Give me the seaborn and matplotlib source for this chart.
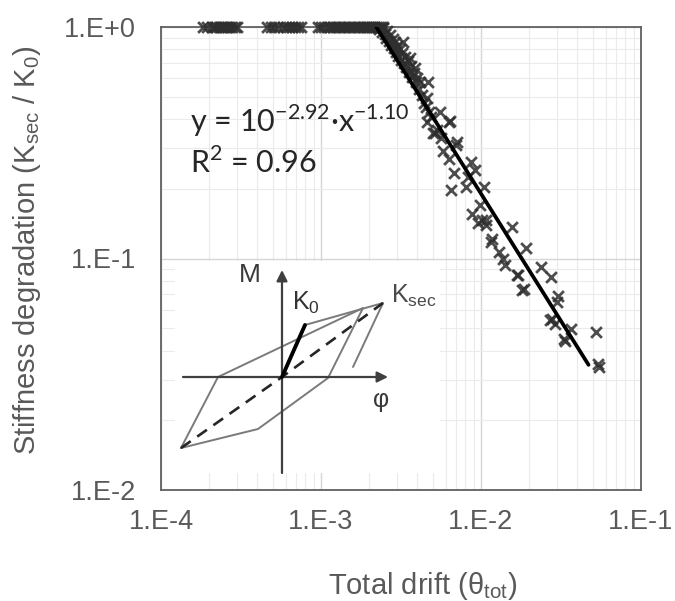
import numpy as np
import pandas as pd
import matplotlib
matplotlib.use("Agg")
import matplotlib.pyplot as plt
import seaborn as sns
from matplotlib.patches import Rectangle
from matplotlib.ticker import LogLocator, NullFormatter

# ---------------------------------------------------------------- data
# drifts at which the secant stiffness is still the initial one (K_sec / K0 = 1)
plateau_drift = [
    1.82e-4, 1.95e-4, 2.08e-4, 2.15e-4, 2.22e-4, 2.30e-4, 2.38e-4, 2.45e-4,
    2.52e-4, 2.60e-4, 2.68e-4, 2.78e-4, 2.90e-4, 3.00e-4,
    4.60e-4, 4.85e-4, 5.10e-4, 5.40e-4, 5.75e-4, 6.00e-4, 6.30e-4, 6.60e-4,
    6.90e-4, 7.20e-4, 7.50e-4,
    9.6e-4, 1.00e-3, 1.05e-3, 1.10e-3, 1.14e-3, 1.18e-3, 1.22e-3, 1.27e-3,
    1.32e-3, 1.37e-3, 1.42e-3, 1.47e-3, 1.52e-3, 1.58e-3, 1.64e-3, 1.70e-3,
    1.76e-3, 1.82e-3, 1.88e-3, 1.94e-3, 2.00e-3, 2.06e-3, 2.12e-3, 2.18e-3,
    2.24e-3, 2.30e-3, 2.38e-3, 2.45e-3,
]
plateau_ratio = 1.0

# degrading branch: total drift and stiffness ratio K_sec / K0
degr_drift = [
    2.30e-3, 2.40e-3, 2.45e-3, 2.50e-3, 2.55e-3, 2.60e-3, 2.65e-3, 2.70e-3,
    2.75e-3, 2.80e-3, 2.85e-3, 2.90e-3, 2.95e-3, 3.00e-3, 3.05e-3, 3.10e-3,
    3.15e-3, 3.20e-3, 3.25e-3, 3.30e-3, 3.35e-3, 3.40e-3, 3.50e-3, 3.55e-3,
    3.60e-3, 3.65e-3, 3.70e-3, 3.80e-3, 3.87e-3, 3.90e-3, 4.00e-3, 4.10e-3,
    4.16e-3, 4.30e-3, 4.40e-3, 4.50e-3, 4.60e-3, 4.67e-3, 4.60e-3, 4.70e-3,
    4.90e-3, 5.00e-3, 5.16e-3, 5.30e-3, 5.54e-3, 5.60e-3, 5.80e-3, 6.30e-3,
    6.40e-3, 7.08e-3, 7.00e-3, 6.30e-3, 6.80e-3, 6.50e-3, 8.10e-3, 8.30e-3,
    8.70e-3, 9.20e-3, 8.80e-3, 9.80e-3, 1.04e-2, 1.02e-2, 1.07e-2, 9.60e-3,
    1.08e-2, 1.56e-2, 1.17e-2, 1.15e-2, 1.29e-2, 1.37e-2, 1.90e-2, 1.42e-2,
    1.67e-2, 1.70e-2, 2.36e-2, 2.72e-2, 1.80e-2, 1.85e-2, 3.05e-2, 3.00e-2,
    2.70e-2, 2.76e-2, 2.90e-2, 3.67e-2, 3.30e-2, 3.37e-2, 5.26e-2, 5.40e-2,
    5.50e-2,
]
degr_ratio = [
    0.98, 0.95, 0.99, 0.93, 0.90, 0.96, 0.87, 0.92,
    0.84, 0.89, 0.81, 0.86, 0.78, 0.83, 0.75, 0.80,
    0.72, 0.77, 0.86, 0.70, 0.74, 0.67, 0.71, 0.64,
    0.735, 0.68, 0.61, 0.63, 0.665, 0.58, 0.60, 0.54,
    0.579, 0.51, 0.47, 0.45, 0.39, 0.579, 0.494, 0.43,
    0.41, 0.35, 0.348, 0.36, 0.429, 0.33, 0.29, 0.39,
    0.392, 0.319, 0.31, 0.27, 0.235, 0.198, 0.204, 0.225,
    0.26, 0.24, 0.155, 0.17, 0.204, 0.147, 0.147, 0.142,
    0.14, 0.137, 0.121, 0.118, 0.107, 0.10, 0.111, 0.094,
    0.085, 0.085, 0.0915, 0.0836, 0.073, 0.0735, 0.0686, 0.065,
    0.054, 0.0546, 0.052, 0.0494, 0.045, 0.0439, 0.048, 0.0349,
    0.034,
]

# power-law fit y = 10^a * x^b
fit_log_coef = -2.92
fit_exponent = -1.10
fit_r2 = 0.96
fit_x_max = 0.047

x_ticks = [1e-4, 1e-3, 1e-2, 1e-1]
x_tick_labels = ["1.E-4", "1.E-3", "1.E-2", "1.E-1"]
y_ticks = [1e-2, 1e-1, 1e0]
y_tick_labels = ["1.E-2", "1.E-1", "1.E+0"]

# schematic moment-curvature loop (arbitrary units, origin at the axes cross)
loop_u = [-10.1, -2.4, 4.6, 8.1, -6.4, -10.1]
loop_v = [-7.1, -5.2, -0.1, 6.9, 0.0, -7.1]
reload_u = [2.3, 10.1, 7.1]
reload_v = [5.2, 7.4, 1.0]
k0_u = [0.0, 2.3]
k0_v = [0.0, 5.2]
ksec_u = [-10.1, 0.0, 10.1]
ksec_v = [-7.1, 0.0, 7.4]

# ---------------------------------------------------------------- style
sns.set_style("white")
plt.rcParams["font.family"] = ["Liberation Sans", "DejaVu Sans"]
label_grey = "#595959"

df = pd.DataFrame({
    "drift": list(plateau_drift) + list(degr_drift),
    "ratio": [plateau_ratio] * len(plateau_drift) + list(degr_ratio),
})

x_start = 10 ** (-fit_log_coef / fit_exponent)
fit_x = np.array([x_start, fit_x_max])
fit_y = 10 ** fit_log_coef * fit_x ** fit_exponent

fig = plt.figure(figsize=(6.75, 6.01), dpi=100)
ax = fig.add_axes([161 / 675, 1 - 490 / 601, 480 / 675, 463 / 601])

sns.scatterplot(data=df, x="drift", y="ratio", marker="x", s=60,
                color="#2e2e2e", linewidth=2.0, alpha=0.85, clip_on=False,
                zorder=3, legend=False, ax=ax)
sns.lineplot(x=fit_x, y=fit_y, color="black", linewidth=2.7, zorder=4, ax=ax)

ax.set_xscale("log")
ax.set_yscale("log")
ax.set_xlim(1e-4, 1e-1)
ax.set_ylim(1e-2, 1e0)
ax.set_xticks(x_ticks, x_tick_labels)
ax.set_yticks(y_ticks, y_tick_labels)
for axis in (ax.xaxis, ax.yaxis):
    axis.set_minor_locator(LogLocator(base=10, subs=np.arange(2, 10)))
    axis.set_minor_formatter(NullFormatter())

ax.set_axisbelow(True)
ax.grid(True, which="major", color="#d6d6d6", linewidth=1.0)
ax.grid(True, which="minor", color="#ebebeb", linewidth=0.8)

ax.tick_params(axis="x", which="major", direction="in", length=6, width=1,
               color=label_grey, labelsize=19.5, labelcolor=label_grey, pad=14)
ax.tick_params(axis="y", which="major", length=0, labelsize=19.5,
               labelcolor=label_grey, pad=18)
ax.tick_params(which="minor", length=0)

for sp in ax.spines.values():
    sp.set_visible(True)
    sp.set_color("#606060")
    sp.set_linewidth(1.3)

ax.set_xlabel("Total drift (θ$_{\\mathregular{tot}}$)", fontsize=21,
              color=label_grey, va="top")
ax.xaxis.set_label_coords(0.544, -0.172)
ax.set_ylabel("Stiffness degradation (K$_{\\mathregular{sec}}$ / K$_{\\mathregular{0}}$)",
              fontsize=21, color=label_grey, va="bottom")
ax.yaxis.set_label_coords(-0.245, 0.518)

ax.text(0.06, 0.773,
        f"y = 10$^{{\\mathregular{{{fit_log_coef:.2f}}}}}$·x$^{{\\mathregular{{{fit_exponent:.2f}}}}}$",
        transform=ax.transAxes, fontsize=22, family="Lato", color="#262626",
        va="baseline", ha="left")
ax.text(0.06, 0.685, f"R$^{{\\mathregular{{2}}}}$ = {fit_r2:.2f}",
        transform=ax.transAxes, fontsize=22, family="Lato", color="#262626",
        va="baseline", ha="left")

# ---------------------------------------------------------------- inset sketch
ins = fig.add_axes([165 / 675, 1 - 490 / 601, 277 / 675, 232 / 601])
ins.set_xlim(-11.7, 16.0)
ins.set_ylim(-11.3, 11.9)
ins.axis("off")
ins.add_patch(Rectangle((-10.7, -9.6), 26.5, 21.2, facecolor="white",
                        edgecolor="none", zorder=0))

axis_kw = dict(arrowstyle="-|>", color="#3f3f3f", lw=1.6, mutation_scale=16,
               shrinkA=0, shrinkB=0)
ins.annotate("", xy=(0, 10.7), xytext=(0, -9.6), arrowprops=axis_kw)
ins.annotate("", xy=(10.6, 0), xytext=(-9.9, 0), arrowprops=axis_kw)

ins.plot(loop_u, loop_v, color="#7a7a7a", lw=1.4, zorder=2)
ins.plot(reload_u, reload_v, color="#7a7a7a", lw=1.4, zorder=2)
ins.plot(ksec_u, ksec_v, color="#262626", lw=1.9, ls=(0, (4.5, 3)), zorder=3)
ins.plot(k0_u, k0_v, color="black", lw=2.8, solid_capstyle="round", zorder=4)

ins.text(-3.2, 10.2, "M", fontsize=19, color="#3a3a3a",
         ha="center", va="center")
ins.text(1.0, 7.4, "K$_{\\mathregular{0}}$", fontsize=18, color="#333333",
         ha="left", va="center")
ins.text(10.9, 8.1, "K$_{\\mathregular{sec}}$", fontsize=18, color="#4a4a4a",
         ha="left", va="center")
ins.text(9.9, -2.3, "φ", fontsize=18, color="#3a3a3a", ha="center",
         va="center")

fig.savefig("out.png", dpi=100, facecolor="white")
